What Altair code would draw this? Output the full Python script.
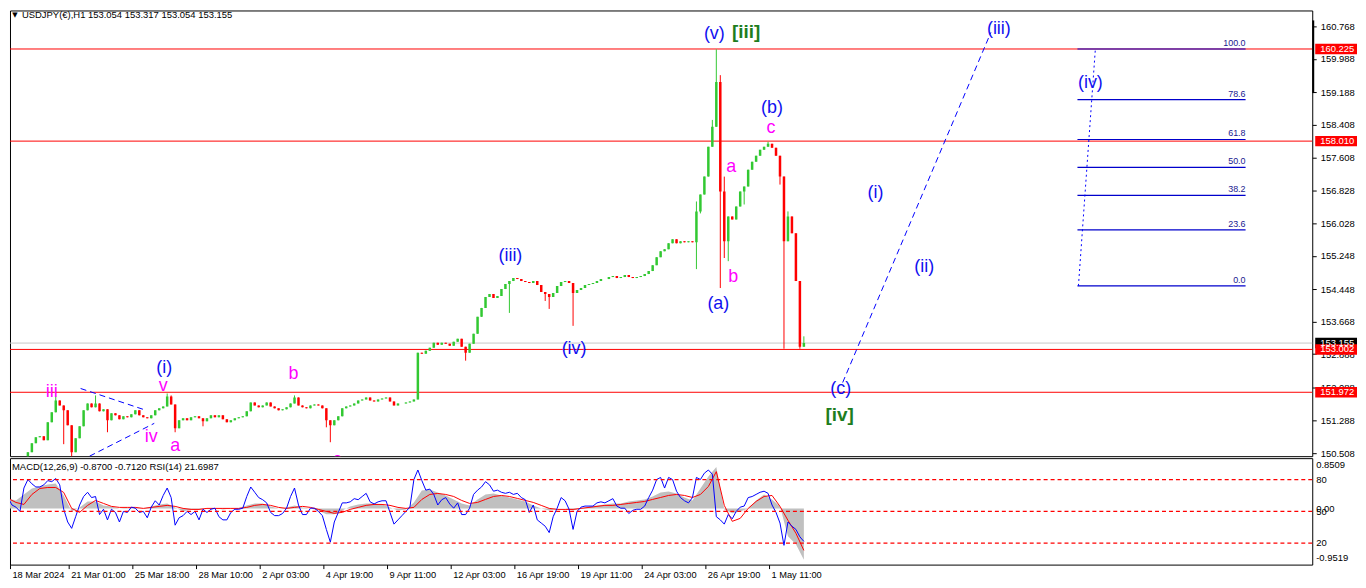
import altair as alt
import pandas as pd

# ---------------- data ----------------
FIRST_OPEN = 149.00
CLOSE = [
    149.15, 149.30, 149.50, 149.80, 150.10, 150.532, 150.748, 150.891, 150.915, 150.819,
    151.25, 151.489, 151.776, 151.656, 151.537, 151.178, 150.532, 150.867, 151.154, 151.537,
    151.704, 151.609, 151.704, 151.513, 151.561, 151.298, 151.465, 151.417, 151.322, 151.393,
    151.369, 151.441, 151.537, 151.417, 151.369, 151.346, 151.417, 151.537, 151.585, 151.633,
    151.872, 151.68, 151.106, 151.298, 151.346, 151.298, 151.369, 151.393, 151.346, 151.274,
    151.346, 151.417, 151.369, 151.417, 151.322, 151.25, 151.298, 151.346, 151.369, 151.393,
    151.513, 151.728, 151.656, 151.609, 151.656, 151.728, 151.633, 151.585, 151.537, 151.561,
    151.609, 151.704, 151.848, 151.656, 151.609, 151.585, 151.656, 151.68, 151.656, 151.585,
    151.298, 151.178, 151.298, 151.393, 151.585, 151.633, 151.656, 151.704, 151.776, 151.80,
    151.848, 151.776, 151.752, 151.80, 151.824, 151.848, 151.752, 151.656, 151.704, 151.704,
    151.728, 151.752, 151.80, 152.924, 152.90, 152.971, 153.043, 153.163, 153.115, 153.163,
    153.139, 153.091, 153.187, 153.258, 153.067, 152.924, 153.139, 153.378, 153.785, 154.00,
    154.263, 154.335, 154.239, 154.287, 154.454, 154.574, 154.646, 154.717, 154.693, 154.646,
    154.622, 154.598, 154.646, 154.55, 154.382, 154.335, 154.263, 154.359, 154.526, 154.622,
    154.646, 154.598, 154.359, 154.43, 154.478, 154.55, 154.574, 154.598, 154.646, 154.693,
    154.693, 154.741, 154.765, 154.717, 154.741, 154.789, 154.741, 154.717, 154.741, 154.765,
    154.813, 154.885, 155.028, 155.22, 155.363, 155.411, 155.554, 155.65, 155.554, 155.602,
    155.578, 155.602, 155.578, 156.32, 156.726, 157.157, 157.874, 158.353, 159.429, 156.80,
    155.60, 156.20, 156.128, 156.439, 156.798, 156.918, 157.324, 157.515, 157.659, 157.802,
    157.874, 157.946, 157.85, 157.659, 157.157, 155.602, 156.20, 155.794, 154.646, 153.067,
    153.155,
]
HIGH_WICKS = {12: 151.872, 22: 151.896, 40: 151.943, 41: 151.896, 72: 151.896,
              173: 156.559, 177: 158.52, 178: 160.218, 179: 159.596, 180: 157.157,
              191: 157.994, 196: 156.32, 200: 153.317}
LOW_WICKS = {14: 150.724, 16: 150.341, 25: 151.011, 42: 151.011, 49: 151.154,
             80: 151.13, 81: 150.771, 115: 152.732, 126: 153.88, 135: 154.167,
             136: 153.976, 142: 153.569, 173: 154.933, 174: 156.272, 179: 154.478,
             180: 155.20, 181: 155.124, 185: 156.487, 194: 156.965, 195: 153.019,
             199: 153.019}

RSI = [
    63, 56, 54, 50, 72, 80, 76, 73, 73, 75,
    79, 78, 81, 75, 52, 40, 34, 45, 56, 64,
    68, 63, 64, 47, 52, 42, 52, 49, 40, 50,
    49, 54, 53, 49, 50, 44, 54, 60, 56, 65,
    72, 63, 37, 44, 46, 50, 47, 50, 42, 52,
    49, 52, 53, 45, 42, 42, 49, 52, 52, 53,
    64, 73, 68, 63, 61, 58, 49, 46, 46, 48,
    53, 64, 72, 56, 47, 47, 53, 53, 50, 46,
    33, 21, 40, 49, 58, 58, 59, 62, 61, 64,
    67, 59, 57, 59, 60, 60, 49, 38, 42, 46,
    50, 54, 80, 89, 79, 70, 71, 66, 56, 61,
    63, 57, 53, 58, 47, 47, 53, 66, 70, 73,
    78, 75, 69, 70, 68, 67, 68, 66, 67, 63,
    61, 49, 56, 42, 39, 36, 30, 45, 53, 63,
    60, 52, 33, 50, 54, 55, 55, 55, 58, 59,
    58, 60, 62, 55, 53, 53, 48, 51, 52, 52,
    55, 63, 70, 80, 82, 72, 82, 80, 69, 63,
    60, 58, 63, 82, 80, 86, 89, 85, 45, 42,
    38, 47, 43, 50, 54, 55, 63, 64, 66, 68,
    69, 67, 56, 49, 39, 18, 40, 36, 33, 26,
    21.7,
]

# MACD main (histogram) and signal, one value every second bar
MACD = [
    0.169, 0.135, 0.236, 0.337, 0.371, 0.404, 0.421, 0.219, -0.051, 0.017,
    0.118, 0.118, 0.051, 0.034, 0.0, 0.017, 0.017, 0.0, 0.034, 0.067,
    0.084, 0.017, -0.051, -0.017, -0.017, 0.0, 0.005, -0.017, 0.0, 0.008,
    0.051, 0.084, 0.084, 0.034, 0.0, 0.017, 0.051, 0.017, 0.0, -0.034,
    -0.101, -0.101, -0.034, 0.034, 0.067, 0.084, 0.084, 0.067, 0.017, -0.034,
    -0.017, 0.101, 0.303, 0.32, 0.27, 0.219, 0.152, 0.084, 0.051, 0.152,
    0.236, 0.253, 0.219, 0.185, 0.152, 0.118, 0.051, 0.0, -0.034, 0.0,
    0.0, -0.034, 0.0, 0.034, 0.051, 0.067, 0.084, 0.084, 0.118, 0.135,
    0.152, 0.202, 0.27, 0.286, 0.253, 0.185, 0.135, 0.337, 0.539, 0.70,
    -0.017, -0.084, -0.051, 0.0, 0.135, 0.236, 0.152, 0.034, -0.472, -0.607,
    -0.87,
]
SIGNAL = [
    0.169, 0.101, 0.067, 0.236, 0.337, 0.354, 0.354, 0.27, 0.0, -0.067,
    0.051, 0.135, 0.084, 0.034, 0.017, 0.017, 0.017, 0.0, 0.017, 0.034,
    0.051, 0.034, 0.0, -0.017, -0.017, 0.0, 0.0, 0.0, 0.0, 0.0,
    0.017, 0.051, 0.067, 0.051, 0.017, 0.0, 0.017, 0.034, 0.017, -0.017,
    -0.051, -0.084, -0.067, -0.017, 0.017, 0.051, 0.067, 0.067, 0.051, 0.017,
    0.0, 0.017, 0.152, 0.236, 0.253, 0.236, 0.202, 0.135, 0.084, 0.101,
    0.152, 0.202, 0.219, 0.202, 0.169, 0.135, 0.101, 0.051, 0.0, -0.017,
    -0.017, -0.017, 0.0, 0.017, 0.034, 0.051, 0.051, 0.067, 0.084, 0.101,
    0.118, 0.152, 0.185, 0.219, 0.236, 0.219, 0.185, 0.236, 0.371, 0.623,
    0.051, -0.219, -0.169, 0.0, 0.118, 0.202, 0.219, 0.034, -0.202, -0.421,
    -0.712,
]

RED_LEVELS = [160.225, 158.010, 153.002, 151.972]
BID = 153.155
BOX_PRICES = [160.225, 158.010, 153.155, 153.002, 151.972]
BOX_KIND = ["red", "red", "black", "red", "red"]
PRICE_TICKS = [160.768, 159.988, 159.188, 158.408, 157.608, 156.828, 156.028,
               155.248, 154.448, 153.668, 152.888, 152.088, 151.288, 150.508]

FIB_LOW, FIB_HIGH = 154.53, 160.225
FIB_RATIOS = [0.0, 23.6, 38.2, 50.0, 61.8, 78.6, 100.0]
FIB_BARS = [268.75, 311.0]

TIME_TICK_BARS = [0.5, 15.25, 31.25, 47.25, 63.25, 79.25, 95.25, 111.25,
                  127.25, 143.25, 159.25, 175.25, 191.25]
TIME_LABELS = ["18 Mar 2024", "21 Mar 01:00", "25 Mar 18:00", "28 Mar 10:00",
               "2 Apr 03:00", "4 Apr 19:00", "9 Apr 11:00", "12 Apr 03:00",
               "16 Apr 19:00", "19 Apr 11:00", "24 Apr 03:00", "26 Apr 19:00",
               "1 May 11:00"]

WAVE_TEXT = ["iii", "(i)", "v", "iv", "a", "b", "c", "(iii)", "(iv)", "(v)",
             "[iii]", "a", "b", "(a)", "(b)", "c", "(i)", "(ii)", "(iii)", "(iv)",
             "(c)", "[iv]"]
WAVE_BAR = [11.0, 39.25, 39.0, 36.0, 42.0, 71.75, 82.75, 126.25, 142.25, 177.5,
            185.5, 181.75, 182.25, 178.5, 192.0, 191.75, 218.0, 230.25, 249.0, 272.0,
            209.25, 209.0]
WAVE_PRICE = [151.967, 152.553, 152.111, 150.891, 150.676, 152.421, 150.341, 155.243,
              153.02, 160.577, 160.624, 157.396, 154.741, 154.096, 158.807, 158.329,
              156.774, 154.98, 160.70, 159.405, 152.039, 151.417]
WAVE_GROUP = ["magenta", "blue", "magenta", "magenta", "magenta", "magenta", "magenta",
              "blue", "blue", "blue", "green", "magenta", "magenta", "blue", "blue",
              "magenta", "blue", "blue", "blue", "blue", "blue", "green"]

TRIANGLE_UPPER = [(18.25, 152.063), (34.75, 151.537)]
TRIANGLE_LOWER = [(20.5, 150.436), (36.75, 151.225)]
PROJECTION = [(209.75, 152.206), (247.0, 160.625)]
FIB_DIAG = [(269.0, 154.53), (273.25, 160.225)]

# ---------------- styling ----------------
GREEN = "#32c832"
RED = "#ff0000"
BLUE = "#0000ff"
MAGENTA = "#ff00ff"
WAVE_GREEN = "#1e7d1e"
FIB_BLUE = "#0000cc"
FIB_TEXT = "#202090"
FONT = "Liberation Sans"
GROUP_COLORS = {"blue": "#1010f0", "magenta": MAGENTA, "green": WAVE_GREEN}

W, HM, HS = 1309, 448, 107
xs = alt.Scale(domain=[0.5, 0.5 + W / 4], nice=False, zero=False)
ys = alt.Scale(domain=[150.436, 161.151], nice=False, zero=False)
rsi_s = alt.Scale(domain=[-0.16, 100.16], nice=False, zero=False)
macd_s = alt.Scale(domain=[-0.9519, 0.8509], nice=False, zero=False)

price_axis = alt.Axis(orient="right", values=PRICE_TICKS, format=".3f", tickSize=4,
                      tickColor="black", labelPadding=4, labelFont=FONT, labelFontSize=9.5,
                      labelColor="black", domain=False, grid=False, title=None,
                      labelOverlap=False, labelBound=False, labelFlush=False)

expr = "''"
for v, lab in reversed(list(zip(TIME_TICK_BARS, TIME_LABELS))):
    expr = f"abs(datum.value - {v}) < 0.01 ? '{lab}' : {expr}"
time_axis = alt.Axis(orient="bottom", values=TIME_TICK_BARS, labelExpr=expr, tickSize=4,
                     tickColor="black", labelPadding=2, labelAlign="left",
                     labelBaseline="top", labelOffset=2, labelFont=FONT, labelFontSize=9.3,
                     labelColor="black", domain=False, grid=False, title=None,
                     labelOverlap=False, labelFlush=False, labelBound=False)


def X(f):
    return alt.X(f, type="quantitative", scale=xs, axis=None, title=None)


def XT(f):
    return alt.X(f, type="quantitative", scale=xs, axis=time_axis, title=None)


def Y(f):
    return alt.Y(f, type="quantitative", scale=ys, axis=price_axis, title=None)


# ---------------- frames ----------------
rows = []
prev = FIRST_OPEN
for i, c in enumerate(CLOSE):
    o = prev
    hi = max(o, c, HIGH_WICKS.get(i, c))
    lo = min(o, c, LOW_WICKS.get(i, c))
    rows.append({"i": i, "open": o, "close": c, "high": hi, "low": lo,
                 "col": GREEN if c >= o else RED})
    prev = c
candles = pd.DataFrame(rows)

levels = pd.DataFrame({"price": RED_LEVELS})
bid = pd.DataFrame({"price": [BID]})
boxes = pd.DataFrame({"price": BOX_PRICES, "kind": BOX_KIND})
boxes["col"] = boxes["kind"].map({"red": RED, "black": "black"})
fib = pd.DataFrame({"ratio": FIB_RATIOS})
fib["price"] = FIB_LOW + fib["ratio"] / 100.0 * (FIB_HIGH - FIB_LOW)
fib["label"] = fib["ratio"].map(lambda r: f"{r:.1f}")
fib["x1"] = FIB_BARS[0]
fib["x2"] = FIB_BARS[1]

seg_rows = []
for name, pts in [("up", TRIANGLE_UPPER), ("lo", TRIANGLE_LOWER), ("proj", PROJECTION)]:
    for b, p in pts:
        seg_rows.append({"seg": name, "b": b, "p": p})
dashed = pd.DataFrame(seg_rows)
diag = pd.DataFrame([{"b": b, "p": p} for b, p in FIB_DIAG])

waves = pd.DataFrame({"text": WAVE_TEXT, "b": WAVE_BAR, "p": WAVE_PRICE, "g": WAVE_GROUP})
waves["col"] = waves["g"].map(GROUP_COLORS)
waves_norm = waves[waves["g"] != "green"]
waves_bold = waves[waves["g"] == "green"]

one = pd.DataFrame({"a": [0]})

# ---------------- main panel ----------------
main_layers = [
    alt.Chart(levels).mark_rule(color=RED, strokeWidth=1).encode(y=Y("price")),
    alt.Chart(bid).mark_rule(color="#c8c8c8", strokeWidth=1).encode(y=Y("price")),
    alt.Chart(candles).mark_rule(strokeWidth=1, clip=True).encode(
        x=X("i"), y=Y("low"), y2="high", color=alt.Color("col:N", scale=None)),
    alt.Chart(candles).mark_rule(strokeWidth=2.5, strokeCap="butt", clip=True).encode(
        x=X("i"), y=Y("open"), y2="close", color=alt.Color("col:N", scale=None)),
    alt.Chart(fib).mark_rule(color=FIB_BLUE, strokeWidth=1.2).encode(
        x=X("x1"), x2="x2", y=Y("price")),
    alt.Chart(fib).mark_text(align="right", baseline="bottom", dy=-1, font=FONT,
                             fontSize=9, color=FIB_TEXT).encode(
        x=X("x2"), y=Y("price"), text="label:N"),
    alt.Chart(dashed).mark_line(color=BLUE, strokeWidth=1, strokeDash=[6, 4], clip=True).encode(
        x=X("b"), y=Y("p"), detail="seg:N"),
    alt.Chart(diag).mark_line(color=BLUE, strokeWidth=1, strokeDash=[2, 3]).encode(
        x=X("b"), y=Y("p")),
    alt.Chart(waves_norm).mark_text(font=FONT, fontSize=18, baseline="middle",
                                    align="center", clip=True).encode(
        x=X("b"), y=Y("p"), text="text:N", color=alt.Color("col:N", scale=None)),
    alt.Chart(waves_bold).mark_text(font=FONT, fontSize=19, fontWeight="bold",
                                    baseline="middle", align="center").encode(
        x=X("b"), y=Y("p"), text="text:N", color=alt.Color("col:N", scale=None)),
    alt.Chart(one).mark_text(text="\u25bc", font="DejaVu Sans", fontSize=7, color="black",
                             baseline="middle").encode(x=alt.value(5), y=alt.value(5)),
    alt.Chart(one).mark_text(text="USDJPY(\u20ac),H1  153.054 153.317 153.054 153.155",
                             font=FONT, fontSize=9.5, color="black", align="left",
                             baseline="middle").encode(x=alt.value(12), y=alt.value(5)),
    alt.Chart(one).mark_rect(color="black").encode(
        x=alt.value(W), x2=alt.value(W + 2), y=alt.value(10), y2=alt.value(83)),
    alt.Chart(boxes).transform_calculate(
        top="datum.price + 0.125", bot="datum.price - 0.125").mark_rect().encode(
        x=alt.value(W + 3), x2=alt.value(W + 45), y=Y("top:Q"), y2="bot:Q",
        color=alt.Color("col:N", scale=None)),
    alt.Chart(boxes).mark_text(align="left", baseline="middle", color="white", font=FONT,
                               fontSize=9.5).encode(
        x=alt.value(W + 8), y=Y("price"), text=alt.Text("price:Q", format=".3f")),
]
main = alt.layer(*main_layers).properties(width=W, height=HM)

# ---------------- indicator panel ----------------
ind = pd.DataFrame({"i": list(range(len(RSI))), "rsi": RSI})
macd = pd.DataFrame({"i": [2 * j for j in range(len(MACD))], "macd": MACD, "sig": SIGNAL})
rsi_lv = pd.DataFrame({"v": [80, 50, 20]})

sub_labels = [("0.8509", 7), ("80", 22), ("0.00", 51), ("50", 54), ("20", 85), ("-0.9519", 100)]

sub_layers = [
    alt.Chart(macd).mark_area(color="#c0c0c0", clip=True).encode(
        x=XT("i"), y=alt.Y("macd:Q", scale=macd_s, axis=None, title=None),
        y2=alt.datum(0)),
    alt.Chart(macd).mark_line(color=RED, strokeWidth=1, clip=True).encode(
        x=XT("i"), y=alt.Y("sig:Q", scale=macd_s, axis=None, title=None)),
    alt.Chart(ind).mark_line(color=BLUE, strokeWidth=1, clip=True).encode(
        x=XT("i"), y=alt.Y("rsi:Q", scale=rsi_s, axis=None, title=None)),
    alt.Chart(rsi_lv).mark_rule(color=RED, strokeWidth=1.2, strokeDash=[4, 3]).encode(
        y=alt.Y("v:Q", scale=rsi_s, axis=None, title=None)),
    alt.Chart(one).mark_text(text="MACD(12,26,9) -0.8700 -0.7120  RSI(14) 21.6987",
                             font=FONT, fontSize=9.5, color="black", align="left",
                             baseline="middle").encode(x=alt.value(2), y=alt.value(9)),
]
for txt, ypx in sub_labels:
    sub_layers.append(
        alt.Chart(one).mark_text(text=txt, font=FONT, fontSize=9.5, color="black",
                                 align="left", baseline="middle").encode(
            x=alt.value(W + 4), y=alt.value(ypx)))
sub = alt.layer(*sub_layers).resolve_scale(y="independent").properties(width=W, height=HS)

chart = alt.vconcat(main, sub, spacing=2, bounds="flush").properties(
    padding={"left": 0, "right": 0, "top": 0, "bottom": 0}, background="white"
).configure_view(stroke="black", strokeWidth=1)

chart.save("out.html", embed_options={"renderer": "svg", "actions": False})
